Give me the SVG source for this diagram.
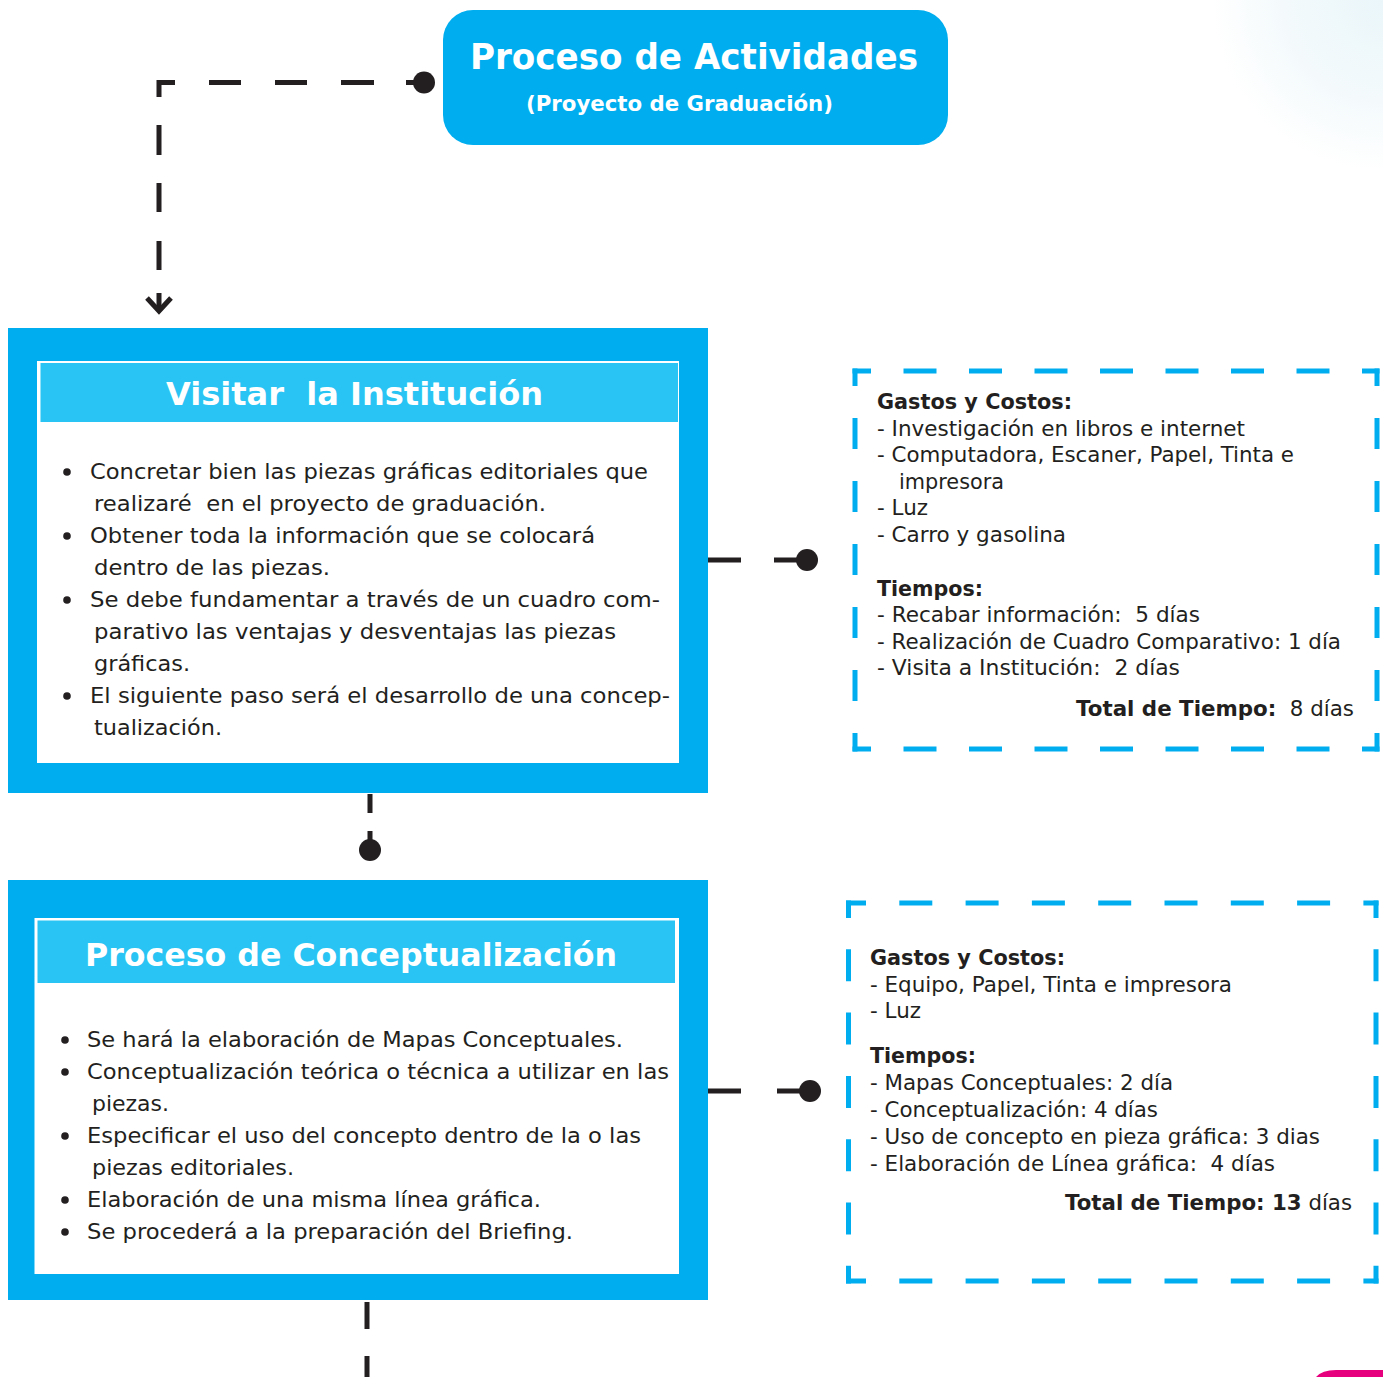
<svg xmlns="http://www.w3.org/2000/svg" width="1383" height="1377" viewBox="0 0 1383 1377">
<defs>
<style>
text{font-family:"DejaVu Sans",Verdana,"Liberation Sans",sans-serif;fill:#231F20;white-space:pre}
.body{font-size:22px}
.side{font-size:21px}
.b{font-weight:bold}
.wt{fill:#FFFFFF;font-weight:bold}
.blue{fill:#00AEEF}
.band{fill:#29C4F3}
.conn{stroke:#231F20;stroke-width:5;fill:none}
.dash{stroke:#00AEEF;stroke-width:5;fill:none}
.dot{fill:#231F20}
.bul{fill:#231F20}
</style>
<radialGradient id="glow" cx="1383" cy="0" r="170" gradientUnits="userSpaceOnUse">
<stop offset="0" stop-color="#EAF6FA"/>
<stop offset="0.6" stop-color="#F4FAFC"/>
<stop offset="1" stop-color="#FFFFFF"/>
</radialGradient>
</defs>
<rect x="0" y="0" width="1383" height="1377" fill="#FFFFFF"/>
<rect x="1200" y="0" width="183" height="180" fill="url(#glow)"/>
<path d="M1316,1377 Q1322,1370 1336,1370 H1383 V1377 Z" fill="#E6007E"/>

<g id="title">
<rect x="443" y="10" width="505" height="135" rx="30" class="blue"/>
<text x="470" y="69" class="wt" font-size="35" textLength="448" lengthAdjust="spacingAndGlyphs">Proceso de Actividades</text>
<text x="526" y="111" class="wt" font-size="21" textLength="307" lengthAdjust="spacingAndGlyphs">(Proyecto de Graduación)</text>
</g>

<g id="connectors">
<path class="conn" d="M159,97 V82.5 H175"/>
<path class="conn" d="M209,82.5 H241 M275,82.5 H307 M341,82.5 H374 M406,82.5 H424"/>
<circle class="dot" cx="424" cy="82.5" r="11"/>
<path class="conn" d="M159,125 V155 M159,183 V212 M159,241 V270 M159,293 V310"/>
<path class="conn" stroke-width="5.5" d="M147,298 L159,311 L171,298"/>
<path class="conn" d="M370,794 V813 M370,831 V842"/>
<circle class="dot" cx="370" cy="850" r="11"/>
<path class="conn" d="M708,560 H741 M774,560 H800"/>
<circle class="dot" cx="807" cy="560" r="11"/>
<path class="conn" d="M708,1091 H741 M777,1091 H803"/>
<circle class="dot" cx="810" cy="1091" r="11"/>
<path class="conn" d="M367,1302 V1329 M367,1356 V1377"/>
</g>

<g id="box1">
<rect x="8" y="328" width="700" height="465" class="blue"/>
<rect x="37" y="361" width="642" height="402" fill="#FFFFFF"/>
<rect x="40.5" y="363" width="637.5" height="59" class="band"/>
<text x="166" y="405" class="wt" font-size="32" textLength="377" lengthAdjust="spacingAndGlyphs">Visitar  la Institución</text>
<circle class="bul" cx="67" cy="472" r="3.8"/>
<circle class="bul" cx="67" cy="536" r="3.8"/>
<circle class="bul" cx="67" cy="600" r="3.8"/>
<circle class="bul" cx="67" cy="696" r="3.8"/>
<text class="body" x="90" y="479" textLength="558" lengthAdjust="spacingAndGlyphs">Concretar bien las piezas gráficas editoriales que</text>
<text class="body" x="94" y="511" textLength="452" lengthAdjust="spacingAndGlyphs">realizaré  en el proyecto de graduación.</text>
<text class="body" x="90" y="543" textLength="505" lengthAdjust="spacingAndGlyphs">Obtener toda la información que se colocará</text>
<text class="body" x="94" y="575" textLength="236" lengthAdjust="spacingAndGlyphs">dentro de las piezas.</text>
<text class="body" x="90" y="607" textLength="570" lengthAdjust="spacingAndGlyphs">Se debe fundamentar a través de un cuadro com-</text>
<text class="body" x="94" y="639" textLength="522" lengthAdjust="spacingAndGlyphs">parativo las ventajas y desventajas las piezas</text>
<text class="body" x="94" y="671" textLength="96" lengthAdjust="spacingAndGlyphs">gráficas.</text>
<text class="body" x="90" y="703" textLength="580" lengthAdjust="spacingAndGlyphs">El siguiente paso será el desarrollo de una concep-</text>
<text class="body" x="94" y="735" textLength="128" lengthAdjust="spacingAndGlyphs">tualización.</text>
</g>

<g id="costs1">
<path class="dash" d="M852.5,371 H1379.5 M852.5,749 H1379.5" stroke-dasharray="33 32.5" stroke-dashoffset="14.5"/>
<path class="dash" d="M855,368.5 V751.5 M1377,368.5 V751.5" stroke-dasharray="31 32" stroke-dashoffset="13.5"/>
<text class="side b" x="877" y="409" textLength="195" lengthAdjust="spacingAndGlyphs">Gastos y Costos:</text>
<text class="side" x="877" y="436" textLength="368" lengthAdjust="spacingAndGlyphs">- Investigación en libros e internet</text>
<text class="side" x="877" y="462" textLength="417" lengthAdjust="spacingAndGlyphs">- Computadora, Escaner, Papel, Tinta e</text>
<text class="side" x="899" y="489" textLength="105" lengthAdjust="spacingAndGlyphs">impresora</text>
<text class="side" x="877" y="515" textLength="51" lengthAdjust="spacingAndGlyphs">- Luz</text>
<text class="side" x="877" y="542" textLength="189" lengthAdjust="spacingAndGlyphs">- Carro y gasolina</text>
<text class="side b" x="877" y="596" textLength="106" lengthAdjust="spacingAndGlyphs">Tiempos:</text>
<text class="side" x="877" y="622" textLength="323" lengthAdjust="spacingAndGlyphs">- Recabar información:  5 días</text>
<text class="side" x="877" y="649" textLength="464" lengthAdjust="spacingAndGlyphs">- Realización de Cuadro Comparativo: 1 día</text>
<text class="side" x="877" y="675" textLength="303" lengthAdjust="spacingAndGlyphs">- Visita a Institución:  2 días</text>
<text class="side" x="1076" y="716" textLength="278" lengthAdjust="spacingAndGlyphs"><tspan class="b">Total de Tiempo:</tspan>  8 días</text>
</g>

<g id="box2">
<rect x="8" y="880" width="700" height="420" class="blue"/>
<rect x="34.5" y="918" width="644.5" height="356" fill="#FFFFFF"/>
<rect x="37.5" y="920.5" width="637.5" height="62.5" class="band"/>
<text x="85" y="966" class="wt" font-size="32" textLength="532" lengthAdjust="spacingAndGlyphs">Proceso de Conceptualización</text>
<circle class="bul" cx="65" cy="1040" r="3.8"/>
<circle class="bul" cx="65" cy="1072" r="3.8"/>
<circle class="bul" cx="65" cy="1136" r="3.8"/>
<circle class="bul" cx="65" cy="1200" r="3.8"/>
<circle class="bul" cx="65" cy="1232" r="3.8"/>
<text class="body" x="87" y="1047" textLength="536" lengthAdjust="spacingAndGlyphs">Se hará la elaboración de Mapas Conceptuales.</text>
<text class="body" x="87" y="1079" textLength="582" lengthAdjust="spacingAndGlyphs">Conceptualización teórica o técnica a utilizar en las</text>
<text class="body" x="92" y="1111" textLength="77" lengthAdjust="spacingAndGlyphs">piezas.</text>
<text class="body" x="87" y="1143" textLength="554" lengthAdjust="spacingAndGlyphs">Especificar el uso del concepto dentro de la o las</text>
<text class="body" x="92" y="1175" textLength="202" lengthAdjust="spacingAndGlyphs">piezas editoriales.</text>
<text class="body" x="87" y="1207" textLength="454" lengthAdjust="spacingAndGlyphs">Elaboración de una misma línea gráfica.</text>
<text class="body" x="87" y="1239" textLength="486" lengthAdjust="spacingAndGlyphs">Se procederá a la preparación del Briefing.</text>
</g>

<g id="costs2">
<path class="dash" d="M846,903 H1378.5 M846,1281 H1378.5" stroke-dasharray="33 33.3" stroke-dashoffset="13"/>
<path class="dash" d="M848.5,900.5 V1283.5 M1376,900.5 V1283.5" stroke-dasharray="32 31.3" stroke-dashoffset="14.5"/>
<text class="side b" x="870" y="965" textLength="195" lengthAdjust="spacingAndGlyphs">Gastos y Costos:</text>
<text class="side" x="870" y="992" textLength="362" lengthAdjust="spacingAndGlyphs">- Equipo, Papel, Tinta e impresora</text>
<text class="side" x="870" y="1018" textLength="51" lengthAdjust="spacingAndGlyphs">- Luz</text>
<text class="side b" x="870" y="1063" textLength="106" lengthAdjust="spacingAndGlyphs">Tiempos:</text>
<text class="side" x="870" y="1090" textLength="303" lengthAdjust="spacingAndGlyphs">- Mapas Conceptuales: 2 día</text>
<text class="side" x="870" y="1117" textLength="288" lengthAdjust="spacingAndGlyphs">- Conceptualización: 4 días</text>
<text class="side" x="870" y="1144" textLength="450" lengthAdjust="spacingAndGlyphs">- Uso de concepto en pieza gráfica: 3 dias</text>
<text class="side" x="870" y="1171" textLength="405" lengthAdjust="spacingAndGlyphs">- Elaboración de Línea gráfica:  4 días</text>
<text class="side" x="1065" y="1210" textLength="287" lengthAdjust="spacingAndGlyphs"><tspan class="b">Total de Tiempo: 13</tspan> días</text>
</g>
</svg>
